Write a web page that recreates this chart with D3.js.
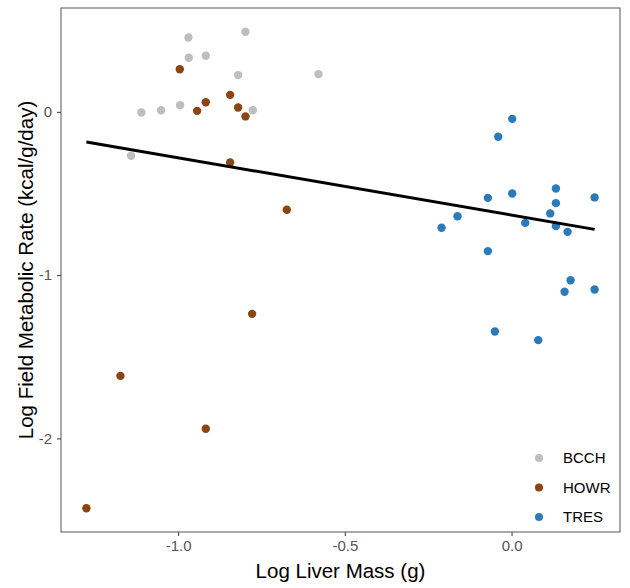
<!DOCTYPE html>
<html>
<head>
<meta charset="utf-8">
<script src="https://cdn.jsdelivr.net/npm/d3@7"></script>
<style>
  body { margin: 0; background: #fff; }
  text { font-family: "Liberation Sans", Arial, sans-serif; }
</style>
</head>
<body>
<svg width="630" height="588"></svg>
<script>
// species (log liver mass, log FMR)
var species = ["BCCH", "HOWR", "TRES"];
var colors = ["#bebebe", "#8b4513", "#2b7bba"];

var bcchX = [-0.969, -0.798, -0.968, -0.917, -0.820, -0.579, -1.110, -1.051, -0.994, -0.776, -1.141];
var bcchY = [0.455, 0.490, 0.331, 0.343, 0.225, 0.231, -0.004, 0.010, 0.041, 0.010, -0.269];

var howrX = [-0.995, -0.844, -0.917, -0.943, -0.820, -0.798, -0.844, -0.674, -0.778, -1.173, -0.917, -1.275];
var howrY = [0.261, 0.104, 0.059, 0.006, 0.027, -0.028, -0.310, -0.600, -1.237, -1.617, -1.941, -2.427];

var tresX = [0.002, -0.040, -0.071, 0.002, 0.133, 0.133, 0.249, 0.116, -0.162, -0.210, 0.041, 0.133, 0.168, -0.071, 0.177, 0.159, 0.249, -0.050, 0.080];
var tresY = [-0.043, -0.153, -0.527, -0.500, -0.469, -0.559, -0.524, -0.622, -0.639, -0.710, -0.680, -0.700, -0.735, -0.853, -1.031, -1.102, -1.088, -1.345, -1.398];

var xTicks = [-1.0, -0.5, 0.0];
var yTicks = [0, -1, -2];

var svg = d3.select("svg");
var pLeft = 61, pRight = 620, pTop = 8, pBottom = 532;

// build one table of points
var points = [];
[[bcchX, bcchY], [howrX, howrY], [tresX, tresY]].forEach(function(s, i) {
  s[0].forEach(function(x, j) {
    points.push({ sp: species[i], x: x, y: s[1][j] });
  });
});

// ggplot style 5% expansion
function expand(ext) {
  var d = (ext[1] - ext[0]) * 0.05;
  return [ext[0] - d, ext[1] + d];
}
var x = d3.scaleLinear().domain(expand(d3.extent(points, d => d.x))).range([pLeft, pRight]);
var y = d3.scaleLinear().domain(expand(d3.extent(points, d => d.y))).range([pBottom, pTop]);
var color = d3.scaleOrdinal().domain(species).range(colors);

// axes
var xAxis = svg.append("g")
  .attr("transform", "translate(0," + pBottom + ")")
  .call(d3.axisBottom(x).tickValues(xTicks).tickSize(4).tickPadding(4));
var yAxis = svg.append("g")
  .attr("transform", "translate(" + pLeft + ",0)")
  .call(d3.axisLeft(y).tickValues(yTicks).tickSize(4).tickPadding(5));
[xAxis, yAxis].forEach(function(a) {
  a.select(".domain").remove();
  a.selectAll(".tick line").attr("stroke", "#333");
  a.selectAll(".tick text").attr("fill", "#555").style("font-size", "15px");
});
xAxis.selectAll(".tick text").text(d => d.toFixed(1));
yAxis.selectAll(".tick text").text(d => String(d));

// points
svg.append("g").selectAll("circle")
  .data(points)
  .enter().append("circle")
  .attr("cx", d => x(d.x))
  .attr("cy", d => y(d.y))
  .attr("r", 4.2)
  .attr("fill", d => color(d.sp));

// linear fit over all points
var mx = d3.mean(points, d => d.x), my = d3.mean(points, d => d.y);
var slope = d3.sum(points, d => (d.x - mx) * (d.y - my)) / d3.sum(points, d => (d.x - mx) * (d.x - mx));
var icpt = my - slope * mx;
var xr = d3.extent(points, d => d.x);
svg.append("line")
  .attr("x1", x(xr[0])).attr("y1", y(icpt + slope * xr[0]))
  .attr("x2", x(xr[1])).attr("y2", y(icpt + slope * xr[1]))
  .attr("stroke", "#000")
  .attr("stroke-width", 3);

// panel border
svg.append("rect")
  .attr("x", pLeft).attr("y", pTop)
  .attr("width", pRight - pLeft).attr("height", pBottom - pTop)
  .attr("fill", "none")
  .attr("stroke", "#555")
  .attr("stroke-width", 1);

// legend
var legend = svg.append("g").selectAll("g")
  .data(species)
  .enter().append("g")
  .attr("transform", (d, i) => "translate(539," + (458 + i * 29.5) + ")");
legend.append("circle").attr("r", 4).attr("fill", d => color(d));
legend.append("text")
  .attr("x", 24).attr("dy", "0.35em")
  .style("font-size", "15px")
  .attr("fill", "#000")
  .text(d => d);

// titles
svg.append("text")
  .attr("x", (pLeft + pRight) / 2).attr("y", 578)
  .attr("text-anchor", "middle")
  .style("font-size", "20.5px")
  .text("Log Liver Mass (g)");
svg.append("text")
  .attr("transform", "translate(33," + ((pTop + pBottom) / 2) + ") rotate(-90)")
  .attr("text-anchor", "middle")
  .style("font-size", "20.5px")
  .text("Log Field Metabolic Rate (kcal/g/day)");
</script>
</body>
</html>
